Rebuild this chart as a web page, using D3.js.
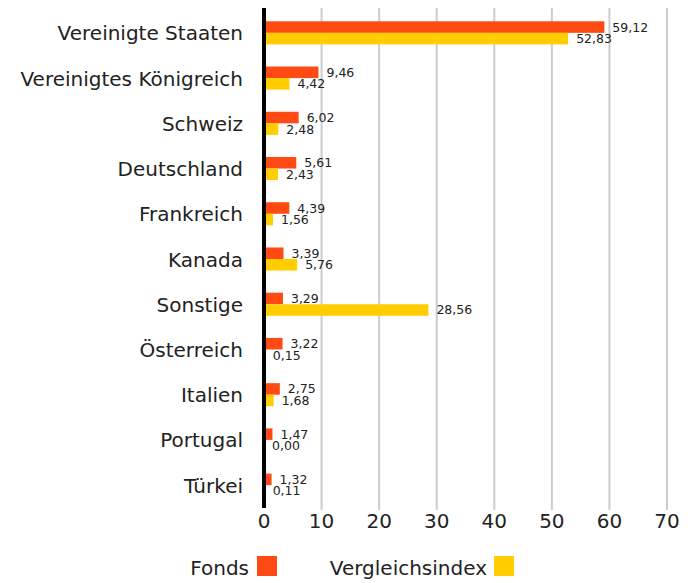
<!DOCTYPE html>
<html>
<head>
<meta charset="utf-8">
<script src="https://cdn.jsdelivr.net/npm/d3@7/dist/d3.min.js"></script>
<style>
  body { margin: 0; background: #fff; }
  svg text { font-family: "DejaVu Sans", sans-serif; fill: #222; }
</style>
</head>
<body>
<div id="chart"></div>
<script>
// ========= Data =========
const categories = ['Vereinigte Staaten', 'Vereinigtes Königreich', 'Schweiz', 'Deutschland',
  'Frankreich', 'Kanada', 'Sonstige', 'Österreich', 'Italien', 'Portugal', 'Türkei'];
const fonds = [59.12, 9.46, 6.02, 5.61, 4.39, 3.39, 3.29, 3.22, 2.75, 1.47, 1.32];
const vergleichsindex = [52.83, 4.42, 2.48, 2.43, 1.56, 5.76, 28.56, 0.15, 1.68, 0.00, 0.11];
const xTicks = [0, 10, 20, 30, 40, 50, 60, 70];
const seriesNames = ['Fonds', 'Vergleichsindex'];
const colors = ['#ff4a14', '#ffcd00'];

const width = 694, height = 583;
const plotLeft = 264, plotRight = 667, plotTop = 10, plotBottom = 508;

const svg = d3.select('#chart').append('svg')
  .attr('width', width)
  .attr('height', height);

const x = d3.scaleLinear().domain([0, 70]).range([plotLeft, plotRight]);
const y = d3.scaleBand().domain(categories).range([plotTop, plotBottom]).paddingInner(0.49).paddingOuter(0.25);
const ySub = d3.scaleBand().domain(seriesNames).range([0, y.bandwidth()]);

// ========= Grid =========
svg.append('g').selectAll('line')
  .data(xTicks.filter(t => t > 0))
  .enter().append('line')
  .attr('x1', d => x(d)).attr('x2', d => x(d))
  .attr('y1', 8).attr('y2', 510)
  .attr('stroke', '#cccccc')
  .attr('stroke-width', 2);

svg.append('g').selectAll('text')
  .data(xTicks)
  .enter().append('text')
  .attr('x', d => x(d))
  .attr('y', 528)
  .attr('text-anchor', 'middle')
  .attr('font-size', 20)
  .text(d => d);

// ========= Bars =========
const rows = categories.map((c, i) => ({cat: c, vals: [fonds[i], vergleichsindex[i]]}));

const rowG = svg.append('g').selectAll('g')
  .data(rows)
  .enter().append('g')
  .attr('transform', d => `translate(0,${y(d.cat)})`);

rowG.selectAll('rect')
  .data(d => d.vals.map((v, j) => ({v: v, s: seriesNames[j], j: j})))
  .enter().append('rect')
  .attr('x', x(0))
  .attr('y', d => ySub(d.s))
  .attr('width', d => x(d.v) - x(0))
  .attr('height', ySub.bandwidth())
  .attr('fill', d => colors[d.j]);

rowG.selectAll('text.val')
  .data(d => d.vals.map((v, j) => ({v: v, s: seriesNames[j], j: j})))
  .enter().append('text')
  .attr('class', 'val')
  .attr('x', d => x(d.v) + 8)
  .attr('y', d => ySub(d.s) + ySub.bandwidth() / 2 + 4.5)
  .attr('font-size', 12.5)
  .text(d => d3.format('.2f')(d.v).replace('.', ','));

// category labels
svg.append('g').selectAll('text')
  .data(categories)
  .enter().append('text')
  .attr('x', 243)
  .attr('y', d => y(d) + y.bandwidth() / 2 + 7.5)
  .attr('text-anchor', 'end')
  .attr('font-size', 20)
  .text(d => d);

// zero axis
svg.append('line')
  .attr('x1', x(0)).attr('x2', x(0))
  .attr('y1', 8).attr('y2', 508)
  .attr('stroke', '#000')
  .attr('stroke-width', 4);

// ========= Legend =========
const legend = [{name: 'Fonds', tx: 249, sx: 257}, {name: 'Vergleichsindex', tx: 487, sx: 494}];
legend.forEach((l, i) => {
  svg.append('text')
    .attr('x', l.tx).attr('y', 575)
    .attr('text-anchor', 'end')
    .attr('font-size', 20)
    .text(l.name);
  svg.append('rect')
    .attr('x', l.sx).attr('y', 556)
    .attr('width', 20).attr('height', 20)
    .attr('fill', colors[i]);
});
</script>
</body>
</html>
